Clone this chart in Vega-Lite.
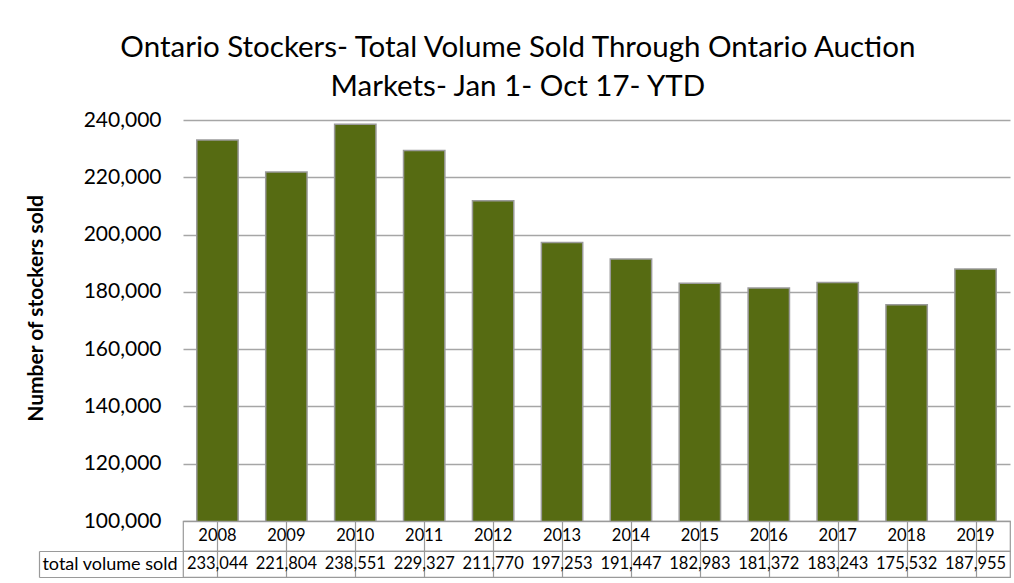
{
  "$schema": "https://vega.github.io/schema/vega-lite/v6.json",
  "background": "white",
  "padding": {"left": 25, "top": 32, "right": 3, "bottom": 5},
  "title": {
    "text": ["Ontario Stockers- Total Volume Sold Through Ontario Auction", "Markets- Jan 1- Oct 17- YTD"],
    "anchor": "middle",
    "font": "Lato",
    "fontSize": 29.5,
    "fontWeight": "normal",
    "lineHeight": 39,
    "color": "#000000",
    "offset": 7
  },
  "data": {
    "values": [
      {"year": "2008", "volume": 233044},
      {"year": "2009", "volume": 221804},
      {"year": "2010", "volume": 238551},
      {"year": "2011", "volume": 229327},
      {"year": "2012", "volume": 211770},
      {"year": "2013", "volume": 197253},
      {"year": "2014", "volume": 191447},
      {"year": "2015", "volume": 182983},
      {"year": "2016", "volume": 181372},
      {"year": "2017", "volume": 183243},
      {"year": "2018", "volume": 175532},
      {"year": "2019", "volume": 187955}
    ]
  },
  "spacing": 0,
  "bounds": "flush",
  "resolve": {"scale": {"x": "independent"}},
  "config": {"view": {"stroke": null}},
  "vconcat": [
    {
      "width": 827,
      "height": 401,
      "mark": {"type": "bar", "color": "#566b12", "stroke": "#9a9a9a", "strokeWidth": 1.5, "clip": true},
      "encoding": {
        "x": {"field": "year", "type": "ordinal", "scale": {"paddingInner": 0.4, "paddingOuter": 0.2}, "axis": null},
        "y": {
          "field": "volume", "type": "quantitative",
          "scale": {"domain": [100000, 240000], "zero": false, "nice": false},
          "axis": {
            "values": [100000, 120000, 140000, 160000, 180000, 200000, 220000, 240000],
            "format": ",d",
            "title": "Number of stockers sold",
            "titleY": 188,
            "grid": true, "gridColor": "#a6a6a6", "gridWidth": 1.5,
            "domain": false, "ticks": false,
            "labelFont": "Lato", "labelFontSize": 21, "labelColor": "#000000", "labelPadding": 22,
            "titleFont": "Lato", "titleFontSize": 21, "titleFontWeight": "bold", "titleColor": "#000000", "titlePadding": 37
          }
        }
      }
    },
    {
      "width": 827,
      "height": 30,
      "view": {"stroke": "#9a9a9a", "strokeWidth": 1.2},
      "mark": {"type": "text", "font": "Lato", "fontSize": 16.5, "color": "#000000"},
      "encoding": {
        "x": {"field": "year", "type": "ordinal", "scale": {"paddingInner": 0, "paddingOuter": 0},
          "axis": {"title": null, "labels": false, "ticks": false, "domain": false, "grid": true, "bandPosition": 0, "gridColor": "#9a9a9a", "gridWidth": 1.2}},
        "text": {"field": "year", "type": "nominal"}
      }
    },
    {
      "width": 827,
      "height": 26,
      "view": {"stroke": "#9a9a9a", "strokeWidth": 1.2},
      "mark": {"type": "text", "font": "Lato", "fontSize": 16.5, "color": "#000000"},
      "encoding": {
        "x": {"field": "year", "type": "ordinal", "scale": {"paddingInner": 0, "paddingOuter": 0},
          "axis": {"title": null, "labels": false, "ticks": false, "domain": false, "grid": true, "bandPosition": 0, "gridColor": "#9a9a9a", "gridWidth": 1.2}},
        "y": {"datum": "total volume sold", "type": "nominal", "scale": {"type": "band", "paddingInner": 0, "paddingOuter": 0},
          "axis": {"title": null, "offset": 144, "tickSize": -144, "tickBand": "extent", "domain": true, "domainColor": "#9a9a9a", "domainWidth": 1.2, "tickColor": "#9a9a9a", "tickWidth": 1.2,
            "labelFont": "Lato", "labelFontSize": 18, "labelColor": "#000000", "labelPadding": 6, "labelAlign": "right"}},
        "text": {"field": "volume", "type": "quantitative", "format": ",d"}
      }
    }
  ]
}
